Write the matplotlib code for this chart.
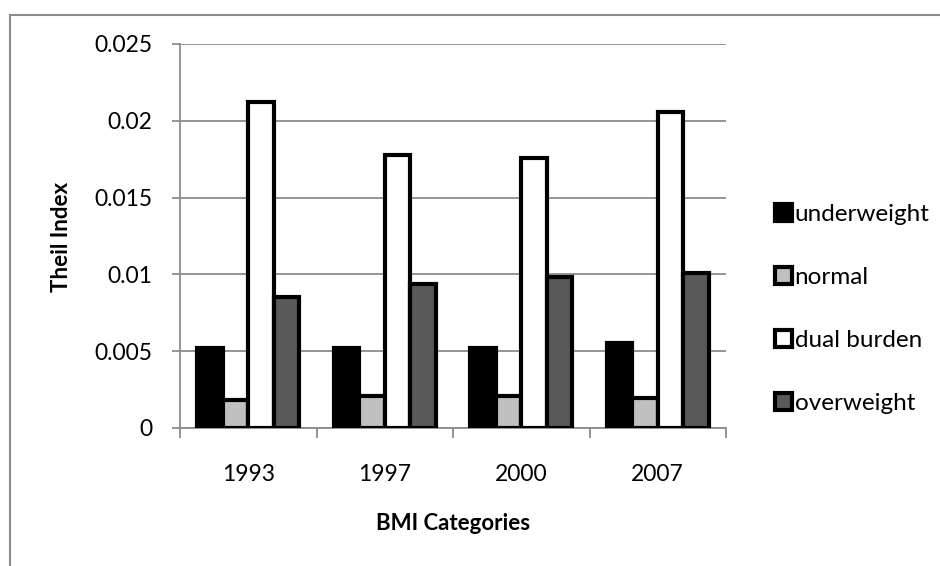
import matplotlib
matplotlib.use("Agg")
import matplotlib.pyplot as plt
from matplotlib.lines import Line2D
import numpy as np

plt.rcParams['font.family'] = ['Lato', 'DejaVu Sans']

years = ["1993", "1997", "2000", "2007"]
series_names = ["underweight", "normal", "dual burden", "overweight"]
underweight = [0.0052, 0.0052, 0.0052, 0.00555]
normal = [0.0018, 0.0021, 0.0021, 0.00197]
dual_burden = [0.0212, 0.0178, 0.0176, 0.0206]
overweight = [0.0085, 0.0094, 0.0098, 0.0101]
yticks = [0, 0.005, 0.01, 0.015, 0.02, 0.025]
ytick_labels = ["0", "0.005", "0.01", "0.015", "0.02", "0.025"]

colors = ["#000000", "#C0C0C0", "#FFFFFF", "#595959"]
values = [underweight, normal, dual_burden, overweight]

W, H = 940, 566
fig = plt.figure(figsize=(W / 100, H / 100), dpi=100)
ax = fig.add_axes([180 / W, 1 - 428 / H, (726 - 180) / W, (428 - 44) / H])

x = np.arange(len(years))
bw = 0.1875
handles = []
for i, (vals, c, name) in enumerate(zip(values, colors, series_names)):
    b = ax.bar(x + (i - 1.5) * bw, vals, bw, color=c, edgecolor="black",
               linewidth=3.0, label=name, zorder=3)
    handles.append(b)

ax.set_xlim(-0.5, 3.5)
ax.set_ylim(0, 0.025)
ax.set_yticks(yticks)
ax.set_yticklabels(ytick_labels)
ax.yaxis.grid(True, color="#8C8C8C", linewidth=1.3, zorder=0)
ax.set_axisbelow(True)

ax.set_xticks(x)
ax.set_xticklabels(years)
ax.set_xticks(np.arange(-0.5, 4, 1), minor=True)
ax.tick_params(axis="x", which="major", length=0, pad=26, labelsize=16.5)
ax.tick_params(axis="x", which="minor", length=7, width=1.3, color="#8C8C8C")
ax.tick_params(axis="y", length=6, width=1.3, color="#8C8C8C", pad=14, labelsize=16.5)

for s in ["top", "right"]:
    ax.spines[s].set_visible(False)
for s in ["left", "bottom"]:
    ax.spines[s].set_color("#8C8C8C")
    ax.spines[s].set_linewidth(1.3)
ax.spines["left"].set_bounds(0, 0.025)

fig.text(62 / W, 1 - 237 / H, "Theil Index", rotation=90, ha="center", va="center",
         fontsize=16, fontweight="bold")
fig.text(453 / W, 1 - 524 / H, "BMI Categories", ha="center", va="center",
         fontsize=16, fontweight="bold")

leg = fig.legend(handles=handles, labels=series_names, loc="center left",
                 bbox_to_anchor=(765 / W, 1 - 309 / H), frameon=False,
                 fontsize=17.5, handlelength=0.7, handleheight=0.7,
                 handletextpad=0.12, labelspacing=1.73, borderaxespad=0)

# chart border (partially cropped in original)
fig.add_artist(Line2D([10 / W, 1.0], [1 - 14.5 / H, 1 - 14.5 / H], color="#8C8C8C", linewidth=1.5))
fig.add_artist(Line2D([10 / W, 10 / W], [0, 1 - 14.5 / H], color="#8C8C8C", linewidth=1.5))

fig.savefig("out.png", dpi=100)
